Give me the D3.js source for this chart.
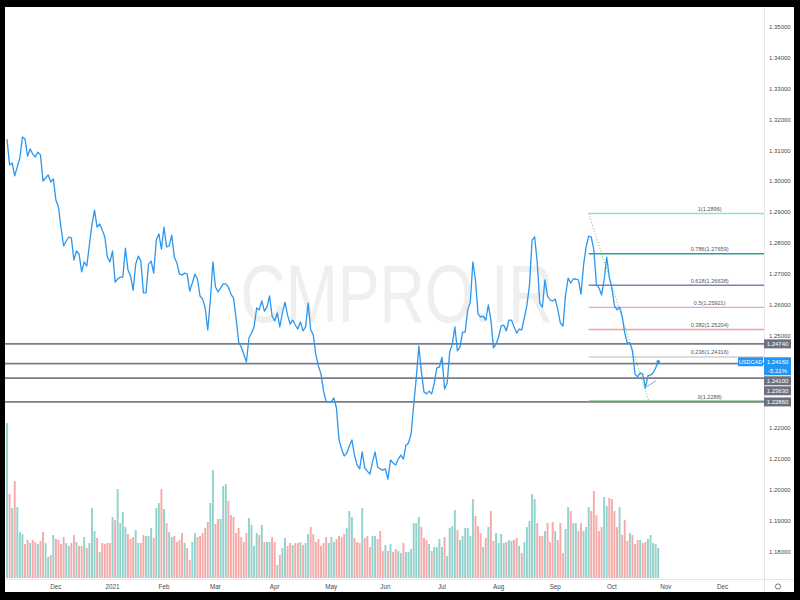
<!DOCTYPE html>
<html><head><meta charset="utf-8">
<script src="https://cdn.jsdelivr.net/npm/d3@7"></script>
<style>
body{margin:0;background:#000}
svg{display:block}
text{font-family:"Liberation Sans",Arial,sans-serif}
</style>
</head><body>
<svg id="c" width="800" height="600"></svg>
<script>
// ---------- data ----------
const symbol = "USDCAD";
const startDate = "2020-11-04";
const holidays = ["2020-12-25", "2021-01-01"];
const lastTickDate = "2021-12-31";

const closes = [
1.3137,1.3053,1.3060,1.3018,1.3047,1.3076,1.3144,1.3137,1.3082,1.3105,
1.3089,1.3079,1.3095,1.3086,1.3001,1.3011,1.3021,1.2998,1.3008,1.2940,
1.2917,1.2849,1.2791,1.2807,1.2820,1.2817,1.2745,1.2775,1.2765,1.2707,
1.2739,1.2726,1.2794,1.2859,1.2907,1.2852,1.2862,1.2843,1.2820,1.2755,
1.2739,1.2775,1.2674,1.2684,1.2690,1.2690,1.2784,1.2713,1.2694,1.2648,
1.2732,1.2758,1.2742,1.2639,1.2639,1.2732,1.2742,1.2703,1.2810,1.2830,
1.2781,1.2852,1.2788,1.2791,1.2826,1.2755,1.2736,1.2700,1.2697,1.2703,
1.2700,1.2645,1.2671,1.2700,1.2684,1.2629,1.2619,1.2590,1.2519,1.2616,
1.2739,1.2658,1.2642,1.2655,1.2668,1.2668,1.2658,1.2635,1.2622,1.2558,
1.2480,1.2464,1.2441,1.2415,1.2493,1.2509,1.2529,1.2590,1.2584,1.2613,
1.2580,1.2593,1.2629,1.2564,1.2548,1.2574,1.2529,1.2574,1.2609,1.2567,
1.2538,1.2551,1.2535,1.2522,1.2545,1.2516,1.2529,1.2606,1.2519,1.2503,
1.2438,1.2402,1.2376,1.2321,1.2286,1.2286,1.2286,1.2299,1.2266,1.2163,
1.2133,1.2111,1.2120,1.2143,1.2163,1.2114,1.2082,1.2069,1.2124,1.2072,
1.2062,1.2052,1.2091,1.2124,1.2075,1.2069,1.2065,1.2069,1.2036,1.2098,
1.2088,1.2082,1.2101,1.2114,1.2101,1.2146,1.2153,1.2182,1.2276,1.2363,
1.2467,1.2383,1.2318,1.2312,1.2321,1.2312,1.2347,1.2396,1.2399,1.2431,
1.2328,1.2347,1.2448,1.2473,1.2529,1.2451,1.2464,1.2512,1.2512,1.2584,
1.2609,1.2739,1.2681,1.2571,1.2561,1.2564,1.2551,1.2600,1.2551,1.2461,
1.2473,1.2496,1.2532,1.2535,1.2516,1.2551,1.2551,1.2529,1.2509,1.2522,
1.2519,1.2558,1.2600,1.2665,1.2810,1.2820,1.2739,1.2606,1.2593,1.2681,
1.2629,1.2616,1.2613,1.2619,1.2584,1.2541,1.2532,1.2632,1.2687,1.2671,
1.2684,1.2684,1.2681,1.2635,1.2729,1.2788,1.2823,1.2820,1.2778,1.2665,
1.2655,1.2632,1.2681,1.2755,1.2690,1.2655,1.2597,1.2584,1.2593,1.2564,
1.2509,1.2477,1.2477,1.2451,1.2376,1.2367,1.2380,1.2376,1.2331,1.2370,
1.2373,1.2380,1.2396,1.2416
];

const volumes = [
155,84,70,97,71,46,44,34,38,35,38,36,34,37,46,35,21,23,43,39,
38,34,41,35,32,35,43,36,32,32,41,30,35,70,47,40,26,35,34,35,
35,61,58,89,55,66,51,44,39,41,48,35,35,43,42,42,50,40,70,75,
89,69,55,46,41,42,36,38,45,35,30,18,36,45,41,42,45,50,56,75,
108,54,59,59,92,94,77,63,61,45,50,41,36,45,60,53,32,45,43,53,
36,36,36,41,36,13,23,30,40,32,35,33,35,35,36,33,35,44,51,44,
36,39,32,35,41,35,41,36,39,42,41,44,50,67,61,40,36,35,70,40,
42,31,42,42,39,47,27,33,27,34,26,29,27,25,35,26,26,29,55,55,
61,51,40,38,34,27,31,31,39,31,41,22,50,52,68,48,38,42,50,50,
42,79,62,52,45,31,40,51,67,37,45,35,44,35,36,38,37,38,40,32,
25,36,51,57,84,79,55,42,42,47,55,36,56,47,38,55,25,49,71,67,
55,55,47,55,47,51,71,67,87,63,47,51,81,72,80,79,67,51,71,43,
58,37,45,43,34,38,38,35,36,39,43,35,34,30
];

const priceTicks = [1.18,1.19,1.20,1.21,1.22,1.23,1.24,1.25,1.26,1.27,1.28,1.29,1.30,1.31,1.32,1.33,1.34,1.35];

const fibLevels = [1, 0.786, 0.618, 0.5, 0.382, 0.236, 0];
const fibPrices = [1.2896, 1.27659, 1.26638, 1.25921, 1.25204, 1.24316, 1.2288];
const fibColors = ["#8fe3bd", "#2e9f94", "#7f7fbd", "#e99bf0", "#f59ea2", "#d0d0d6", "#4fb356"];
const fibStartIndex = 226;
const fibLabelIndex = 273;
const fibTrendEndIndex = 249.4;

const hLevels = [1.2474, 1.2410, 1.2363, 1.2286];
const lastPrice = 1.2416;
const changeText = "-5.21%";
const smallLine = [[248.5, 1.2335], [252.1, 1.2354]];

// ---------- layout ----------
const W = 800, H = 600;
const plotL = 5, plotR = 764, plotT = 7, plotB = 579, frameR = 794, frameB = 592;

const svg = d3.select("#c");
svg.append("rect").attr("width", W).attr("height", H).attr("fill", "#000");
svg.append("rect").attr("x", plotL).attr("y", plotT).attr("width", frameR - plotL).attr("height", frameB - plotT).attr("fill", "#fff");

const x = d3.scaleLinear().domain([0, 253]).range([7, 658.2]);
const y = d3.scaleLinear().domain([1.18, 1.35]).range([552, 27]);
const v = d3.scaleLinear().domain([0, 155]).range([plotB - 1, 423]);

// trading days
const fmt = d3.utcFormat("%Y-%m-%d");
const hol = new Set(holidays);
const days = d3.utcDay.range(new Date(startDate + "T00:00Z"), new Date(lastTickDate + "T00:00Z"))
  .filter(d => d.getUTCDay() % 6 !== 0 && !hol.has(fmt(d)));

const clipId = "plotclip";
svg.append("clipPath").attr("id", clipId).append("rect")
  .attr("x", plotL).attr("y", plotT).attr("width", plotR - plotL).attr("height", plotB - plotT);
const plot = svg.append("g").attr("clip-path", `url(#${clipId})`);

// watermark
plot.append("text").attr("x", 397).attr("y", 322).attr("text-anchor", "middle")
  .attr("font-size", 82).attr("fill", "#efeff0")
  .attr("textLength", 313).attr("lengthAdjust", "spacingAndGlyphs")
  .text("CMPRO.IR");

// volume
plot.append("g").selectAll("rect").data(volumes).join("rect")
  .attr("x", (d, i) => x(i) - 0.95)
  .attr("width", 1.9)
  .attr("y", d => v(d))
  .attr("height", d => v(0) - v(d))
  .attr("fill", (d, i) => (i === 0 || closes[i] >= closes[i - 1]) ? "#92d2cc" : "#f7a9a7");

// horizontal levels
plot.append("g").selectAll("line").data(hLevels).join("line")
  .attr("x1", plotL).attr("x2", plotR)
  .attr("y1", d => y(d)).attr("y2", d => y(d))
  .attr("stroke", "#7b7e89").attr("stroke-width", 1.6);

// fib
const fg = plot.append("g");
fibPrices.forEach((p, k) => {
  fg.append("line").attr("x1", x(fibStartIndex)).attr("x2", plotR)
    .attr("y1", y(p)).attr("y2", y(p))
    .attr("stroke", fibColors[k]).attr("stroke-width", 1.4);
  fg.append("text").attr("x", x(fibLabelIndex)).attr("y", y(p) - 2.5)
    .attr("text-anchor", "middle").attr("font-size", 5.6).attr("fill", "#555")
    .text(`${fibLevels[k]}(${p})`);
});
fg.append("line")
  .attr("x1", x(fibStartIndex)).attr("y1", y(fibPrices[0]))
  .attr("x2", x(fibTrendEndIndex)).attr("y2", y(fibPrices[fibPrices.length - 1]))
  .attr("stroke", "#6cc070").attr("stroke-width", 1).attr("stroke-dasharray", "1,2");

// price line
plot.append("path").datum(closes)
  .attr("d", d3.line().x((d, i) => x(i)).y(d => y(d)))
  .attr("fill", "none").attr("stroke", "#2a97f0").attr("stroke-width", 1.3)
  .attr("stroke-linejoin", "round");

plot.append("line")
  .attr("x1", x(smallLine[0][0])).attr("y1", y(smallLine[0][1]))
  .attr("x2", x(smallLine[1][0])).attr("y2", y(smallLine[1][1]))
  .attr("stroke", "#6f8fc4").attr("stroke-width", 0.8);

plot.append("circle").attr("cx", x(closes.length - 1)).attr("cy", y(closes[closes.length - 1]))
  .attr("r", 1.8).attr("fill", "#2196f3");

// axes separators
svg.append("line").attr("x1", plotR + 0.5).attr("x2", plotR + 0.5).attr("y1", plotT).attr("y2", frameB)
  .attr("stroke", "#e3e5ea").attr("stroke-width", 1);
svg.append("line").attr("x1", plotL).attr("x2", frameR).attr("y1", plotB + 0.5).attr("y2", plotB + 0.5)
  .attr("stroke", "#e3e5ea").attr("stroke-width", 1);

// price-axis label boxes (layout first, so tick labels hidden under them are skipped)
const boxes = [
  {p: 1.2474, lines: ["1.24740"], bg: "#6d7080"},
  {p: lastPrice, lines: [lastPrice.toFixed(5), changeText], bg: "#2196f3"},
  {p: 1.2410, lines: ["1.24100"], bg: "#6d7080"},
  {p: 1.2363, lines: ["1.23630"], bg: "#6d7080"},
  {p: 1.2286, lines: ["1.22860"], bg: "#6d7080"}
].sort((a, b) => y(a.p) - y(b.p));
let prevBottom = -Infinity;
boxes.forEach(b => {
  b.h = 9 * b.lines.length;
  b.top = Math.max(y(b.p) - 4.5, prevBottom + 1);
  prevBottom = b.top + b.h;
});

// price ticks (skip those covered by a box)
const visibleTicks = priceTicks.filter(t => {
  const ty = y(t);
  return !boxes.some(b => ty + 3 > b.top && ty - 3 < b.top + b.h);
});
svg.append("g").selectAll("text").data(visibleTicks).join("text")
  .attr("x", 769).attr("y", d => y(d) + 2)
  .attr("font-size", 6).attr("fill", "#4a4a4a")
  .text(d => d.toFixed(5));

// time ticks
const ticks = [];
for (let i = 1; i < days.length; i++) {
  if (days[i].getUTCMonth() !== days[i - 1].getUTCMonth()) ticks.push(i);
}
svg.append("g").selectAll("text").data(ticks).join("text")
  .attr("x", d => x(d)).attr("y", 589)
  .attr("text-anchor", "middle").attr("font-size", 6.3).attr("fill", "#4a4a4a")
  .text(d => days[d].getUTCMonth() === 0 ? d3.utcFormat("%Y")(days[d]) : d3.utcFormat("%b")(days[d]));

// gear icon
svg.append("circle").attr("cx", 778).attr("cy", 586.5).attr("r", 2.6)
  .attr("fill", "none").attr("stroke", "#666").attr("stroke-width", 0.9);

const bg = svg.append("g");
boxes.forEach(b => {
  bg.append("rect").attr("x", 764).attr("y", b.top).attr("width", 27).attr("height", b.h).attr("fill", b.bg);
  b.lines.forEach((t, k) => {
    bg.append("text").attr("x", 777.5).attr("y", b.top + 6.6 + 9 * k)
      .attr("text-anchor", "middle").attr("font-size", 6).attr("fill", "#fff").text(t);
  });
});
// symbol label
bg.append("rect").attr("x", 738).attr("y", y(lastPrice) - 4.5).attr("width", 25).attr("height", 9).attr("fill", "#2196f3");
bg.append("text").attr("x", 750.5).attr("y", y(lastPrice) + 2.1).attr("text-anchor", "middle")
  .attr("font-size", 5.6).attr("fill", "#fff").text(symbol);
</script>
</body></html>
